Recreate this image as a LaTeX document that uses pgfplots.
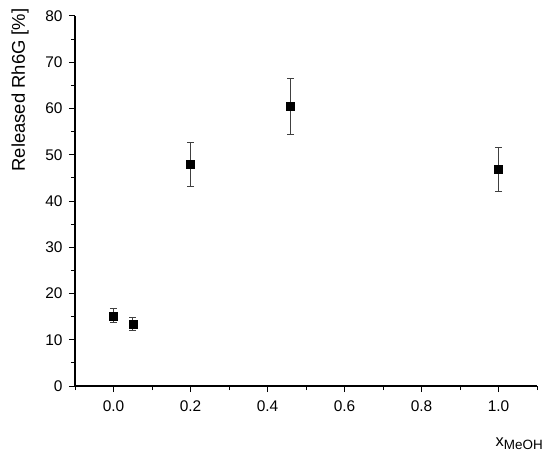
\documentclass[border=0pt]{standalone}
\usepackage{pgfplots}
\pgfplotsset{compat=1.18}
\usepackage{fontspec}
\setmainfont{Liberation Sans}
\begin{document}
\begin{tikzpicture}
\begin{axis}[
  scale only axis,
  width=462bp, height=370bp,
  xmin=-0.1, xmax=1.1, ymin=0, ymax=80,
  axis x line*=bottom, axis y line*=left,
  axis line style={-, line width=1.1pt, black},
  xtick={0,0.2,0.4,0.6,0.8,1.0},
  minor xtick={-0.1,0.1,0.3,0.5,0.7,0.9,1.1},
  ytick={0,10,...,80},
  minor ytick={5,15,...,75},
  tick align=outside,
  major tick length=6bp, minor tick length=4bp,
  every tick/.style={black, line width=1pt},
  /pgf/number format/assume math mode=true,
  xticklabel style={/pgf/number format/fixed, /pgf/number format/fixed zerofill, /pgf/number format/precision=1, font=\fontsize{15.5}{18}\selectfont, yshift=-5bp},
  yticklabel style={font=\fontsize{15.5}{18}\selectfont, xshift=-3bp},
  ylabel={Released Rh6G [\%]},
  ylabel style={at={(rel axis cs:0,0.8)}, anchor=base, inner sep=0pt, yshift=50bp, font=\fontsize{18.5}{20}\selectfont},
  xlabel={x\raisebox{-0.45ex}{\fontsize{13.5}{15}\selectfont MeOH}},
  xlabel style={at={(rel axis cs:1,0)}, anchor=base east, inner sep=0pt, xshift=6bp, yshift=-60bp, font=\fontsize{16.5}{18}\selectfont},
  clip=false,
]
\coordinate (A) at (rel axis cs:0,0);
\addplot[only marks, mark=square*, mark size=4bp, mark options={black, fill=black},
  error bars/.cd, y dir=both, y explicit,
  error bar style={line width=0.8pt, black!75},
  error mark options={rotate=90, mark size=3.5bp, line width=0.8pt, black!75}]
  table[x=x, y=y, y error=e] {
x y e
0.0 15.2 1.5
0.05 13.4 1.4
0.2 47.9 4.8
0.46 60.4 6.0
1.0 46.8 4.7
};
\end{axis}
\pgfresetboundingbox
\path (A) ++(-75bp,-68bp) rectangle ++(550bp,454bp);
\end{tikzpicture}
\end{document}
